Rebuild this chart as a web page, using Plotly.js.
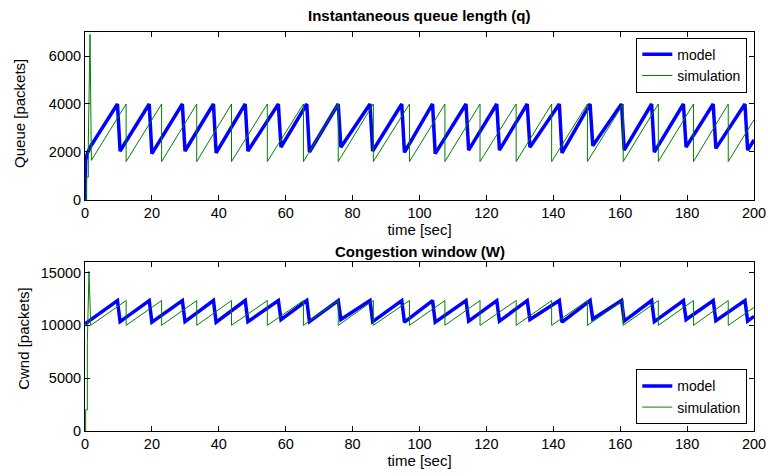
<!DOCTYPE html>
<html>
<head>
<meta charset="utf-8">
<script src="https://cdn.plot.ly/plotly-3.0.1.min.js"></script>
<style>html,body{margin:0;padding:0;background:#fff;}#chart{width:768px;height:476px;}</style>
</head>
<body>
<div id="chart"></div>
<script>
// ---- Data ----
// Model queue length (vertices: time [sec], queue [packets])
var modelQT = [0, 0.2, 0.7, 1.5, 9.7, 10.5, 19.2, 20.0, 29.1, 29.9, 38.4, 39.2, 47.9, 48.7, 57.8, 58.6, 66.3, 67.1, 75.7, 76.5, 85.2, 86.0, 94.7, 95.5, 103.9, 104.7, 113.9, 114.7, 123.1, 123.9, 132.2, 133.0, 141.8, 142.6, 151.0, 151.8, 160.4, 161.2, 169.4, 170.2, 178.9, 179.7, 187.8, 188.6, 197.3, 198.1, 200];
var modelQ  = [0, 1650, 1930, 2200, 4000, 2040, 4000, 1930, 4000, 2040, 4000, 1960, 4000, 2040, 4000, 2200, 4000, 2000, 4000, 2200, 4000, 2040, 4000, 1980, 4000, 1930, 4000, 2080, 4000, 2080, 4000, 2200, 4000, 1960, 4000, 2260, 4000, 2080, 4000, 1990, 4000, 2200, 4000, 2150, 4000, 2080, 2500];

// Simulation queue length
var simQT = [0, 0.5, 0.5, 1.0, 1.0, 1.5, 1.9, 12.3, 12.3, 22.9, 22.9, 33.4, 33.4, 43.8, 43.8, 54.5, 54.5, 65.3, 65.3, 75.7, 75.7, 86.2, 86.2, 97.0, 97.0, 107.6, 107.6, 118.1, 118.1, 128.9, 128.9, 139.5, 139.5, 150.2, 150.2, 160.9, 160.9, 171.4, 171.4, 181.9, 181.9, 192.3, 192.3, 200];
var simQ  = [0, 0, 950, 950, 2500, 6900, 1650, 4000, 1600, 4000, 1600, 4000, 1600, 4000, 1600, 4000, 1600, 4000, 1600, 4000, 1600, 4000, 1600, 4000, 1600, 4000, 1600, 4000, 1600, 4000, 1600, 4000, 1600, 4000, 1600, 4000, 1600, 4000, 1600, 4000, 1600, 4000, 1600, 3350];

// Model congestion window
var modelWT = [0, 9.7, 10.5, 19.2, 20.0, 29.1, 29.9, 38.4, 39.2, 47.9, 48.7, 57.8, 58.6, 66.3, 67.1, 75.7, 76.5, 85.2, 86.0, 94.7, 95.5, 103.9, 104.7, 113.9, 114.7, 123.1, 123.9, 132.2, 133.0, 141.8, 142.6, 151.0, 151.8, 160.4, 161.2, 169.4, 170.2, 178.9, 179.7, 187.8, 188.6, 197.3, 198.1, 200];
var modelW  = [10150, 12350, 10350, 12350, 10300, 12350, 10350, 12350, 10300, 12350, 10350, 12350, 10550, 12350, 10350, 12350, 10550, 12350, 10350, 12350, 10300, 12350, 10300, 12350, 10400, 12350, 10400, 12350, 10550, 12350, 10300, 12350, 10600, 12350, 10400, 12350, 10350, 12350, 10550, 12350, 10450, 12350, 10400, 10850];

// Simulation congestion window
var simWT = [0, 0.2, 0.2, 0.7, 0.7, 1.2, 1.7, 12.3, 12.3, 22.9, 22.9, 33.4, 33.4, 43.8, 43.8, 54.5, 54.5, 65.3, 65.3, 75.7, 75.7, 86.2, 86.2, 97.0, 97.0, 107.6, 107.6, 118.1, 118.1, 128.9, 128.9, 139.5, 139.5, 150.2, 150.2, 160.9, 160.9, 171.4, 171.4, 181.9, 181.9, 192.3, 192.3, 200];
var simW  = [0, 0, 2000, 2000, 8400, 15100, 10000, 12350, 10000, 12350, 10000, 12350, 10000, 12350, 10000, 12350, 10000, 12350, 10000, 12350, 10000, 12350, 10000, 12350, 10000, 12350, 10000, 12350, 10000, 12350, 10000, 12350, 10000, 12350, 10000, 12350, 10000, 12350, 10000, 12350, 10000, 12350, 10000, 11700];

var seriesNames = ['model', 'simulation'];
var xTicks = [0, 20, 40, 60, 80, 100, 120, 140, 160, 180, 200];
var qTicks = [0, 2000, 4000, 6000];
var wTicks = [0, 5000, 10000, 15000];

// ---- Styling ----
var FONT = 'Liberation Sans, Arial, Helvetica, sans-serif';
var BLUE = '#0000ff', GREEN = '#008000';

var traces = [
  {x: modelQT, y: modelQ, xaxis: 'x', yaxis: 'y', type: 'scatter', mode: 'lines',
   name: seriesNames[0], line: {color: BLUE, width: 3.5}, legend: 'legend'},
  {x: simQT, y: simQ, xaxis: 'x', yaxis: 'y', type: 'scatter', mode: 'lines',
   name: seriesNames[1], line: {color: GREEN, width: 1}, legend: 'legend'},
  {x: modelWT, y: modelW, xaxis: 'x2', yaxis: 'y2', type: 'scatter', mode: 'lines',
   name: seriesNames[0], line: {color: BLUE, width: 3.5}, legend: 'legend2'},
  {x: simWT, y: simW, xaxis: 'x2', yaxis: 'y2', type: 'scatter', mode: 'lines',
   name: seriesNames[1], line: {color: GREEN, width: 1}, legend: 'legend2'}
];

function xAxis(anchor) {
  return {
    anchor: anchor, domain: [0, 1], range: [0, 200], tickvals: xTicks,
    showgrid: false, zeroline: false, showline: true, linecolor: '#000', linewidth: 1,
    mirror: 'ticks', ticks: 'inside', ticklen: 5, tickcolor: '#000',
    tickfont: {family: FONT, size: 14.5, color: '#000'}, tickformat: 'd',
    title: {text: 'time [sec]', font: {family: FONT, size: 15, color: '#000'}, standoff: 2}
  };
}
function yAxis(anchor, domain, range, ticks) {
  return {
    anchor: anchor, domain: domain, range: range, tickvals: ticks,
    showgrid: false, zeroline: false, showline: true, linecolor: '#000', linewidth: 1,
    mirror: 'ticks', ticks: 'inside', ticklen: 5, tickcolor: '#000',
    tickfont: {family: FONT, size: 14.5, color: '#000'}, tickformat: 'd'
  };
}

var legendStyle = function (x, y, yanchor) {
  return {
    x: x, y: y, xanchor: 'right', yanchor: yanchor, xref: 'paper', yref: 'paper',
    bgcolor: '#fff', bordercolor: '#000', borderwidth: 1,
    font: {family: FONT, size: 14, color: '#000'}, tracegroupgap: 0
  };
};

var layout = {
  width: 768, height: 476,
  margin: {l: 85, r: 14, t: 32, b: 45, pad: 0},
  paper_bgcolor: '#fff', plot_bgcolor: '#fff',
  font: {family: FONT, color: '#000'},
  showlegend: true,
  xaxis: xAxis('y'),
  yaxis: yAxis('x', [0.579, 1], [0, 7000], qTicks),
  xaxis2: xAxis('y2'),
  yaxis2: yAxis('x2', [0, 0.4236], [0, 16000], wTicks),
  legend: legendStyle(0.99, 0.9857, 'top'),
  legend2: legendStyle(0.99, 0.0168, 'bottom'),
  annotations: [
    {text: '<b>Instantaneous queue length (q)</b>', xref: 'paper', yref: 'paper', x: 0.5, y: 1.0426,
     xanchor: 'center', yanchor: 'middle', showarrow: false, font: {family: FONT, size: 15, color: '#000'}},
    {text: '<b>Congestion window (W)</b>', xref: 'paper', yref: 'paper', x: 0.5, y: 0.451,
     xanchor: 'center', yanchor: 'middle', showarrow: false, font: {family: FONT, size: 15, color: '#000'}},
    {text: 'Queue [packets]', xref: 'paper', yref: 'paper', x: -0.0972, y: 0.797, textangle: -90,
     xanchor: 'center', yanchor: 'middle', showarrow: false, font: {family: FONT, size: 15, color: '#000'}},
    {text: 'Cwnd [packets]', xref: 'paper', yref: 'paper', x: -0.093, y: 0.233, textangle: -90,
     xanchor: 'center', yanchor: 'middle', showarrow: false, font: {family: FONT, size: 15, color: '#000'}}
  ]
};

Plotly.newPlot('chart', traces, layout, {displayModeBar: false, staticPlot: true});
</script>
</body>
</html>
